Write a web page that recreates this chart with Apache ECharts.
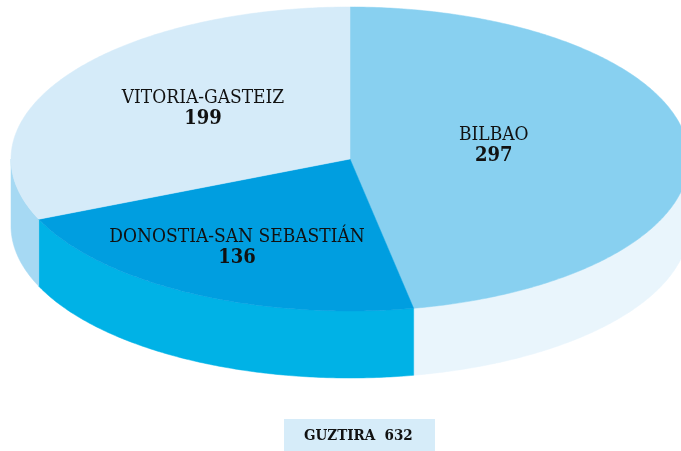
<!DOCTYPE html>
<html>
<head>
<meta charset="utf-8">
<script src="https://cdn.jsdelivr.net/npm/echarts@6/dist/echarts.min.js"></script>
<style>
html,body{margin:0;padding:0;background:#fff;}
#chart{width:681px;height:451px;}
</style>
</head>
<body>
<div id="chart"></div>
<script>
// ---- data ----
const categories = ['BILBAO', 'DONOSTIA-SAN SEBASTIÁN', 'VITORIA-GASTEIZ'];
const values = [297, 136, 199];
const totalLabel = 'GUZTIRA';

// ---- layout / style ----
const CX = 350, CY = 159, RX = 339, RY = 152, DEPTH = 67;
const topColors  = ['#88D0F0', '#009EE0', '#D5EBF9'];
const sideColors = ['#E9F5FC', '#00B2E6', '#A6D9F3'];
const labelFrac = [0.426, 0.712, 0.519];
const FONT = '"DejaVu Serif Condensed", "DejaVu Serif", serif';

const total = values.reduce((a, b) => a + b, 0);

function pt(theta, dy) {
  return [CX + RX * Math.sin(theta), CY - RY * Math.cos(theta) + (dy || 0)];
}
function arc(a0, a1, dy) {
  const pts = [];
  const n = Math.max(2, Math.ceil(Math.abs(a1 - a0) / 0.01));
  for (let k = 0; k <= n; k++) pts.push(pt(a0 + (a1 - a0) * k / n, dy));
  return pts;
}

function renderItem(params, api) {
  const i = params.dataIndex;
  const v = api.value(0);
  let start = 0;
  for (let k = 0; k < i; k++) start += values[k];
  const a0 = start / total * Math.PI * 2;
  const a1 = (start + v) / total * Math.PI * 2;
  const children = [];
  // side face (visible front half: PI/2 .. 3PI/2)
  const s = Math.max(a0, Math.PI / 2), e = Math.min(a1, Math.PI * 1.5);
  if (e > s) {
    const pts = arc(s, e, 0).concat(arc(e, s, DEPTH));
    children.push({ type: 'polygon', z2: 1, shape: { points: pts },
      style: { fill: sideColors[i], stroke: sideColors[i], lineWidth: 0.5 } });
  }
  // top face
  const topPts = [[CX, CY]].concat(arc(a0, a1, 0));
  children.push({ type: 'polygon', z2: 2, shape: { points: topPts },
    style: { fill: topColors[i], stroke: topColors[i], lineWidth: 0.5 } });
  // labels
  const mid = (a0 + a1) / 2;
  const lx = CX + RX * labelFrac[i] * Math.sin(mid);
  const ly = CY - RY * labelFrac[i] * Math.cos(mid);
  children.push({ type: 'text', z2: 5, style: {
    text: categories[i], x: lx, y: ly - 18, align: 'center', verticalAlign: 'middle',
    fill: '#111', fontFamily: FONT, fontSize: 19, fontWeight: 'normal' } });
  children.push({ type: 'text', z2: 5, style: {
    text: String(v), x: lx, y: ly + 3, align: 'center', verticalAlign: 'middle',
    fill: '#111', fontFamily: FONT, fontSize: 20, fontWeight: 'bold' } });
  return { type: 'group', children: children };
}

const chart = echarts.init(document.getElementById('chart'), null, { renderer: 'canvas' });
chart.setOption({
  animation: false,
  backgroundColor: '#ffffff',
  series: [{
    type: 'custom',
    coordinateSystem: 'none',
    renderItem: renderItem,
    data: values.map((v, i) => ({ name: categories[i], value: [v] }))
  }],
  graphic: [
    { type: 'rect', left: 284, top: 419, shape: { width: 151, height: 32 },
      style: { fill: '#D6ECF9' } },
    { type: 'text', left: 304, top: 429, z: 10,
      style: { text: totalLabel + '  ' + total, fill: '#111',
        font: 'bold 15px ' + FONT } }
  ]
});
</script>
</body>
</html>
